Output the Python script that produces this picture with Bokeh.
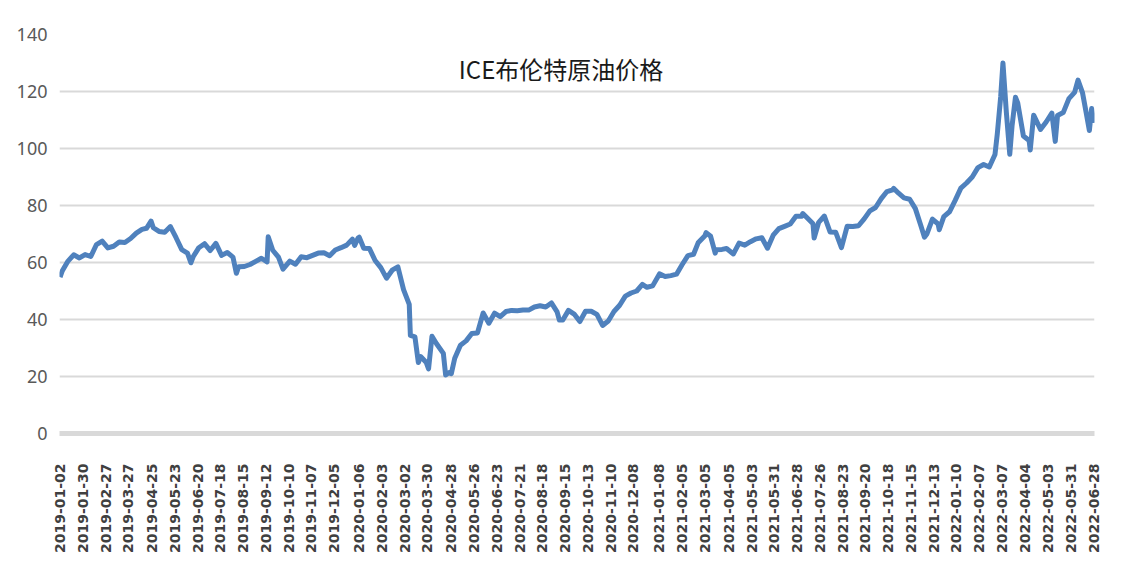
import numpy as np
from bokeh.plotting import figure
from bokeh.models import ColumnDataSource, FixedTicker, Range1d, Label, BoxAnnotation
from bokeh.embed import file_html
from bokeh.resources import INLINE

title_text = "ICE布伦特原油价格"

# x-axis category labels (every 20 trading rows)
tick_dates = [
    "2019-01-02", "2019-01-30", "2019-02-27", "2019-03-27", "2019-04-25", "2019-05-23",
    "2019-06-20", "2019-07-18", "2019-08-15", "2019-09-12", "2019-10-10", "2019-11-07",
    "2019-12-05", "2020-01-06", "2020-02-03", "2020-03-02", "2020-03-30", "2020-04-28",
    "2020-05-26", "2020-06-23", "2020-07-21", "2020-08-18", "2020-09-15", "2020-10-13",
    "2020-11-10", "2020-12-08", "2021-01-08", "2021-02-05", "2021-03-05", "2021-04-05",
    "2021-05-03", "2021-05-31", "2021-06-28", "2021-07-26", "2021-08-23", "2021-09-20",
    "2021-10-18", "2021-11-15", "2021-12-13", "2022-01-10", "2022-02-07", "2022-03-07",
    "2022-04-04", "2022-05-03", "2022-05-31", "2022-06-28",
]

y_ticks = [0, 20, 40, 60, 80, 100, 120, 140]

# Brent price readings (USD/bbl)
price_dates = [
    "2019-01-02", "2019-01-04", "2019-01-11", "2019-01-18", "2019-01-25", "2019-02-01",
    "2019-02-08", "2019-02-15", "2019-02-22", "2019-03-01", "2019-03-08", "2019-03-15",
    "2019-03-22", "2019-03-29", "2019-04-05", "2019-04-12", "2019-04-18", "2019-04-24",
    "2019-04-26", "2019-05-03", "2019-05-10", "2019-05-17", "2019-05-24", "2019-05-31",
    "2019-06-07", "2019-06-12", "2019-06-14", "2019-06-21", "2019-06-28", "2019-07-05",
    "2019-07-12", "2019-07-19", "2019-07-26", "2019-08-02", "2019-08-07", "2019-08-09",
    "2019-08-16", "2019-08-23", "2019-08-30", "2019-09-06", "2019-09-13", "2019-09-16",
    "2019-09-20", "2019-09-27", "2019-10-03", "2019-10-11", "2019-10-18", "2019-10-25",
    "2019-11-01", "2019-11-08", "2019-11-15", "2019-11-22", "2019-11-29", "2019-12-06",
    "2019-12-13", "2019-12-20", "2019-12-27", "2019-12-31",
    "2020-01-03", "2020-01-06", "2020-01-10", "2020-01-17", "2020-01-24", "2020-01-31",
    "2020-02-07", "2020-02-14", "2020-02-21", "2020-02-28", "2020-03-06", "2020-03-09",
    "2020-03-13", "2020-03-18", "2020-03-20", "2020-03-27", "2020-03-31", "2020-04-03",
    "2020-04-09", "2020-04-17", "2020-04-21", "2020-04-24", "2020-04-28", "2020-05-01",
    "2020-05-08", "2020-05-15", "2020-05-22", "2020-05-29", "2020-06-05", "2020-06-12",
    "2020-06-19", "2020-06-26", "2020-07-03", "2020-07-10", "2020-07-17", "2020-07-24",
    "2020-07-31", "2020-08-07", "2020-08-14", "2020-08-21", "2020-08-28", "2020-09-04",
    "2020-09-08", "2020-09-11", "2020-09-18", "2020-09-25", "2020-10-02", "2020-10-09",
    "2020-10-16", "2020-10-23", "2020-10-30", "2020-11-06", "2020-11-13", "2020-11-20",
    "2020-11-27", "2020-12-04", "2020-12-11", "2020-12-18", "2020-12-24", "2020-12-31",
    "2021-01-08", "2021-01-15", "2021-01-22", "2021-01-29", "2021-02-05", "2021-02-12",
    "2021-02-19", "2021-02-25", "2021-03-05", "2021-03-08", "2021-03-12", "2021-03-18",
    "2021-03-19", "2021-03-26", "2021-04-01", "2021-04-09", "2021-04-16", "2021-04-23",
    "2021-04-30", "2021-05-07", "2021-05-14", "2021-05-21", "2021-05-28", "2021-06-04",
    "2021-06-11", "2021-06-18", "2021-06-25", "2021-07-02", "2021-07-05", "2021-07-09",
    "2021-07-16", "2021-07-19", "2021-07-23", "2021-07-30", "2021-08-06", "2021-08-13",
    "2021-08-20", "2021-08-27", "2021-09-03", "2021-09-10", "2021-09-17", "2021-09-24",
    "2021-10-01", "2021-10-08", "2021-10-15", "2021-10-22", "2021-10-25", "2021-10-29",
    "2021-11-05", "2021-11-12", "2021-11-19", "2021-11-26", "2021-12-01", "2021-12-03",
    "2021-12-10", "2021-12-17", "2021-12-20", "2021-12-24", "2021-12-31",
    "2022-01-07", "2022-01-14", "2022-01-21", "2022-01-28", "2022-02-04", "2022-02-11",
    "2022-02-18", "2022-02-25", "2022-03-01", "2022-03-04", "2022-03-08", "2022-03-11",
    "2022-03-16", "2022-03-18", "2022-03-23", "2022-03-25", "2022-04-01", "2022-04-08",
    "2022-04-11", "2022-04-14", "2022-04-22", "2022-04-29", "2022-05-06", "2022-05-11",
    "2022-05-13", "2022-05-20", "2022-05-27", "2022-06-03", "2022-06-08", "2022-06-14",
    "2022-06-17", "2022-06-22", "2022-06-24", "2022-06-28",
]
price_values = [
    54.9, 57.1, 60.5, 62.7, 61.6, 62.8,
    62.1, 66.3, 67.5, 65.1, 65.7, 67.2,
    67.0, 68.4, 70.3, 71.6, 72.0, 74.5,
    72.2, 70.9, 70.6, 72.6, 68.7, 64.5,
    63.3, 59.9, 62.0, 65.2, 66.6, 64.2,
    66.7, 62.5, 63.5, 61.9, 56.2, 58.5,
    58.6, 59.3, 60.4, 61.5, 60.2, 69.0,
    64.3, 61.9, 57.7, 60.5, 59.4, 62.0,
    61.7, 62.5, 63.3, 63.4, 62.4, 64.4,
    65.2, 66.1, 68.2, 66.0,
    68.6, 68.9, 65.0, 64.9, 60.7, 58.2,
    54.5, 57.3, 58.5, 50.5, 45.3, 34.4,
    33.9, 24.9, 27.0, 24.9, 22.7, 34.1,
    31.5, 28.1, 20.5, 21.4, 21.0, 26.4,
    31.0, 32.5, 35.1, 35.3, 42.3, 38.7,
    42.2, 41.0, 42.8, 43.2, 43.1, 43.3,
    43.3, 44.4, 44.8, 44.4, 45.8, 42.7,
    39.8, 39.8, 43.2, 41.9, 39.3, 42.9,
    42.9, 41.8, 37.9, 39.5, 42.8, 45.0,
    48.2, 49.3, 50.0, 52.3, 51.3, 51.8,
    56.0, 55.1, 55.4, 55.9, 59.3, 62.4,
    62.9, 66.9, 69.4, 70.5, 69.2, 63.3,
    64.5, 64.6, 64.9, 63.0, 66.8, 66.1,
    67.3, 68.3, 68.7, 65.0, 69.6, 71.9,
    72.7, 73.5, 76.2, 76.2, 77.2, 75.6,
    73.6, 68.6, 74.1, 76.3, 70.7, 70.6,
    65.2, 72.7, 72.6, 72.9, 75.3, 78.1,
    79.3, 82.4, 84.9, 85.5, 86.0, 84.4,
    82.7, 82.2, 78.9, 72.7, 68.9, 69.9,
    75.2, 73.5, 71.5, 76.1, 77.8,
    81.8, 86.1, 87.9, 90.0, 93.3, 94.4,
    93.5, 97.9, 105.0, 118.1, 130.0, 112.7,
    98.0, 107.9, 118.0, 116.0, 104.4, 102.8,
    99.5, 111.7, 106.7, 109.3, 112.4, 102.5,
    111.6, 112.6, 117.5, 119.7, 124.0, 119.5,
    113.0, 106.3, 114.0, 109.0,
]

# trading-day position of each date (category axis without weekends)
start = np.datetime64(tick_dates[0])
x_idx = np.busday_count(start, np.array(price_dates, dtype="datetime64[D]"))
tick_idx = np.busday_count(start, np.array(tick_dates, dtype="datetime64[D]"))

source = ColumnDataSource(dict(x=x_idx, y=price_values))

x_end = float(tick_idx[-1])
W, H = 1108, 563
p = figure(
    width=W, height=H,
    output_backend="svg", toolbar_location=None,
    x_range=Range1d(-0.5, x_end + 0.5), y_range=Range1d(y_ticks[0], y_ticks[-1]),
    min_border_left=59, min_border_right=14, min_border_top=34, min_border_bottom=130,
    background_fill_color="white", border_fill_color="white",
)
p.outline_line_color = None

# chart-area border (top/left edges visible, the rest runs past the canvas)
p.add_layout(BoxAnnotation(
    left=3, right=W + 20, top=4, bottom=H + 20,
    left_units="canvas", right_units="canvas", top_units="canvas", bottom_units="canvas",
    fill_color=None, fill_alpha=0, line_color="#d9d9d9", line_width=2,
    level="underlay",
))

p.line("x", "y", source=source, line_color="#4f81bd", line_width=5, line_join="round")

# y axis
p.yaxis.ticker = FixedTicker(ticks=y_ticks)
p.yaxis.axis_line_color = None
p.yaxis.major_tick_line_color = None
p.yaxis.minor_tick_line_color = None
p.yaxis.major_label_standoff = 6
p.yaxis.major_label_text_font = "Noto Sans"
p.yaxis.major_label_text_font_size = "18px"
p.yaxis.major_label_text_color = "#595959"

# x axis
p.xaxis.ticker = FixedTicker(ticks=[int(t) for t in tick_idx])
p.xaxis.major_label_overrides = {int(t): d for t, d in zip(tick_idx, tick_dates)}
p.xaxis.major_label_orientation = np.pi / 2
p.xaxis.axis_line_color = "#d9d9d9"
p.xaxis.axis_line_width = 5
p.xaxis.major_tick_line_color = None
p.xaxis.minor_tick_line_color = None
p.xaxis.major_label_standoff = 24
p.xaxis.major_label_text_font = "DejaVu Sans"
p.xaxis.major_label_text_font_style = "bold"
p.xaxis.major_label_text_font_size = "14px"
p.xaxis.major_label_text_color = "#404040"

# grid
p.xgrid.grid_line_color = None
p.ygrid.ticker = FixedTicker(ticks=y_ticks)
p.ygrid.grid_line_color = "#d9d9d9"
p.ygrid.grid_line_width = 2

title = Label(
    x=x_end / 2 - 14, y=128, text=title_text,
    text_align="center", text_baseline="middle",
    text_font="Noto Sans CJK SC", text_font_size="24px", text_color="#1a1a1a",
)
p.add_layout(title)

open("out.html", "w").write(file_html(p, INLINE))
